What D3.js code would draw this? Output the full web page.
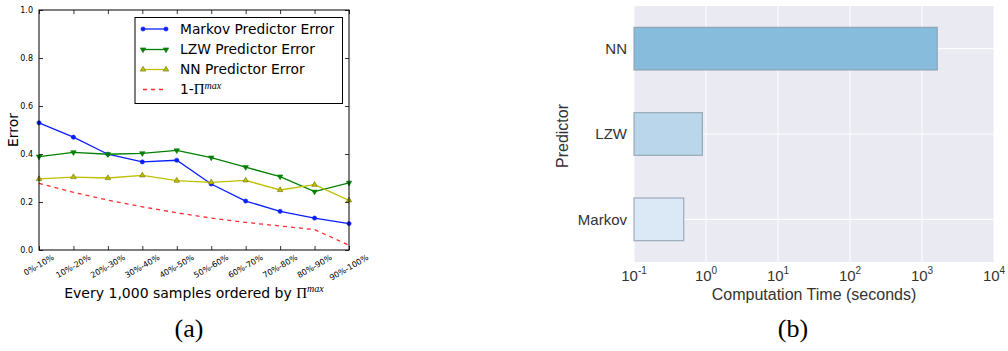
<!DOCTYPE html>
<html>
<head>
<meta charset="utf-8">
<script src="https://cdn.jsdelivr.net/npm/d3@7"></script>
<style>
  html, body { margin: 0; padding: 0; background: #fff; }
  svg { display: block; }
</style>
</head>
<body>
<svg id="fig" width="1008" height="351"></svg>
<script>
// ---- Panel (a): prediction error per decile of samples ----
const deciles = ["0%-10%", "10%-20%", "20%-30%", "30%-40%", "40%-50%",
                 "50%-60%", "60%-70%", "70%-80%", "80%-90%", "90%-100%"];
const markovError = [0.530, 0.470, 0.399, 0.367, 0.374, 0.275, 0.204, 0.161, 0.133, 0.110];
const lzwError    = [0.389, 0.407, 0.399, 0.403, 0.415, 0.385, 0.345, 0.306, 0.243, 0.280];
const nnError     = [0.296, 0.304, 0.300, 0.311, 0.289, 0.282, 0.290, 0.250, 0.272, 0.207];
const piMaxBound  = [0.278, 0.240, 0.208, 0.180, 0.155, 0.133, 0.115, 0.100, 0.085, 0.020];
const errorTicks  = [0.0, 0.2, 0.4, 0.6, 0.8, 1.0];

// ---- Panel (b): computation time per predictor ----
const predictors  = ["NN", "LZW", "Markov"];
const computeTime = [1630, 0.89, 0.49];
const timeTicks   = [-1, 0, 1, 2, 3, 4];   // powers of ten

const svg = d3.select("#fig");
const sans = "DejaVu Sans, sans-serif";
const serif = "Liberation Serif, DejaVu Serif, serif";

// ================= Panel (a) =================
const A = { left: 39, right: 349, top: 10, bottom: 250 };
const xA = d3.scalePoint().domain(deciles).range([A.left, A.right]);
const yA = d3.scaleLinear().domain([0, 1]).range([A.bottom, A.top]);
const ga = svg.append("g");

// inward ticks on all four sides
const tickLen = 4;
ga.append("g").attr("transform", `translate(0,${A.bottom})`)
  .call(d3.axisBottom(xA).tickSize(-tickLen).tickFormat(""))
  .call(g => g.select(".domain").remove());
ga.append("g").attr("transform", `translate(0,${A.top})`)
  .call(d3.axisTop(xA).tickSize(-tickLen).tickFormat(""))
  .call(g => g.select(".domain").remove());
ga.append("g").attr("transform", `translate(${A.left},0)`)
  .call(d3.axisLeft(yA).tickValues(errorTicks).tickSize(-tickLen).tickPadding(6).tickFormat(d3.format(".1f")))
  .call(g => g.select(".domain").remove())
  .call(g => g.selectAll("text").attr("font-family", sans).attr("font-size", 8).attr("fill", "#000"));
ga.append("g").attr("transform", `translate(${A.right},0)`)
  .call(d3.axisRight(yA).tickValues(errorTicks).tickSize(-tickLen).tickFormat(""))
  .call(g => g.select(".domain").remove());
ga.selectAll(".tick line").attr("stroke", "#000").attr("stroke-width", 0.8);

// rotated decile labels, centred under each tick
const xl = ga.append("g");
deciles.forEach(d => {
  const t = xl.append("text")
    .attr("font-family", sans).attr("font-size", 8).attr("fill", "#000")
    .attr("text-anchor", "middle").attr("dominant-baseline", "central")
    .text(d);
  const w = t.node().getComputedTextLength();
  const half = (w * 0.5 + 9 * 0.866) / 2;
  t.attr("transform", `translate(${xA(d)},${A.bottom + 3 + half}) rotate(-30)`);
});

// series
const series = [
  { name: "Markov Predictor Error", values: markovError, color: "#0a1eff", marker: "circle", dash: null },
  { name: "LZW Predictor Error",    values: lzwError,    color: "#008000", marker: "down",   dash: null },
  { name: "NN Predictor Error",     values: nnError,     color: "#bfbf00", marker: "up",     dash: null },
  { name: "bound",                  values: piMaxBound,  color: "#ff2a2a", marker: null,     dash: "4,4" }
];
const lineA = d3.line().x((d, i) => xA(deciles[i])).y(d => yA(d));
const symPath = m => m === "circle" ? d3.symbol(d3.symbolCircle, 14)()
                  : d3.symbol(d3.symbolTriangle, 13)();
function drawMarker(g, s, x, y) {
  if (!s.marker) return;
  const rot = s.marker === "down" ? 180 : 0;
  g.append("path").attr("d", symPath(s.marker))
    .attr("transform", `translate(${x},${y}) rotate(${rot})`)
    .attr("fill", s.color)
    .attr("stroke", s.marker === "up" ? "#6b6b00" : s.color).attr("stroke-width", 0.6);
}
const plotA = ga.append("g");
series.forEach(s => {
  plotA.append("path").datum(s.values).attr("d", lineA)
    .attr("fill", "none").attr("stroke", s.color).attr("stroke-width", 1.3)
    .attr("stroke-dasharray", s.dash);
  s.values.forEach((v, i) => drawMarker(plotA, s, xA(deciles[i]), yA(v)));
});

// frame
ga.append("rect").attr("x", A.left).attr("y", A.top)
  .attr("width", A.right - A.left).attr("height", A.bottom - A.top)
  .attr("fill", "none").attr("stroke", "#000").attr("stroke-width", 1);

// legend
const lg = ga.append("g");
lg.append("rect").attr("x", 135).attr("y", 17.5).attr("width", 207.5).attr("height", 86)
  .attr("fill", "#fff").attr("stroke", "#000").attr("stroke-width", 1);
const legendY = [29, 49.5, 69.5, 89.5];
series.forEach((s, i) => {
  const y = legendY[i];
  lg.append("line").attr("x1", 143).attr("x2", 166).attr("y1", y).attr("y2", y)
    .attr("stroke", s.color).attr("stroke-width", 1.3).attr("stroke-dasharray", s.dash);
  if (s.marker) { drawMarker(lg, s, 143, y); drawMarker(lg, s, 166, y); }
  const t = lg.append("text").attr("x", 180).attr("y", y).attr("dy", "0.36em")
    .attr("font-family", sans).attr("font-size", 13.8).attr("fill", "#000");
  if (s.name === "bound") {
    t.append("tspan").text("1-");
    t.append("tspan").attr("font-family", serif).attr("font-size", 15).text("Π");
    t.append("tspan").attr("font-family", serif).attr("font-style", "italic")
      .attr("font-size", 10).attr("dy", "-0.55em").text("max");
  } else {
    t.text(s.name);
  }
});

// axis titles
ga.append("text").attr("transform", "translate(18,130) rotate(-90)")
  .attr("text-anchor", "middle").attr("font-family", sans).attr("font-size", 14).text("Error");
const xt = ga.append("text").attr("x", 194).attr("y", 298).attr("text-anchor", "middle")
  .attr("font-family", sans).attr("font-size", 14).attr("fill", "#000");
xt.append("tspan").text("Every 1,000 samples ordered by ");
xt.append("tspan").attr("font-family", serif).attr("font-size", 15).text("Π");
xt.append("tspan").attr("font-family", serif).attr("font-style", "italic")
  .attr("font-size", 10).attr("dy", "-0.6em").text("max");
ga.append("text").attr("x", 189).attr("y", 337).attr("text-anchor", "middle")
  .attr("font-family", serif).attr("font-size", 26).text("(a)");

// ================= Panel (b) =================
const B = { left: 634, right: 994, top: 6, bottom: 262 };
const xB = d3.scaleLog().domain([0.1, 10000]).range([B.left, B.right]);
const yB = d3.scaleBand().domain(predictors).range([B.top, B.bottom])
  .paddingInner(0.5).paddingOuter(0.25);
const gb = svg.append("g");
const bSans = "Liberation Sans, Arial, sans-serif";

gb.append("rect").attr("x", B.left).attr("y", B.top)
  .attr("width", B.right - B.left).attr("height", B.bottom - B.top).attr("fill", "#eaeaf2");

// grid
gb.append("g").selectAll("line").data(timeTicks).join("line")
  .attr("x1", p => xB(Math.pow(10, p))).attr("x2", p => xB(Math.pow(10, p)))
  .attr("y1", B.top).attr("y2", B.bottom).attr("stroke", "#fff").attr("stroke-width", 1);
gb.append("g").selectAll("line").data(predictors).join("line")
  .attr("x1", B.left).attr("x2", B.right)
  .attr("y1", d => yB(d) + yB.bandwidth() / 2).attr("y2", d => yB(d) + yB.bandwidth() / 2)
  .attr("stroke", "#fff").attr("stroke-width", 1);

// bars
const barFill = d3.scaleOrdinal().domain(predictors).range(["#88bcdd", "#bad6eb", "#dbe9f6"]);
gb.append("g").selectAll("rect").data(predictors).join("rect")
  .attr("x", xB(0.1))
  .attr("y", d => yB(d))
  .attr("width", (d, i) => xB(computeTime[i]) - xB(0.1))
  .attr("height", yB.bandwidth())
  .attr("fill", d => barFill(d))
  .attr("stroke", "#8a9bab").attr("stroke-opacity", 0.8).attr("stroke-width", 1.2);

// tick labels
gb.append("g").selectAll("text").data(predictors).join("text")
  .attr("x", B.left - 7)
  .attr("y", d => yB(d) + yB.bandwidth() / 2).attr("dy", "0.36em")
  .attr("text-anchor", "end").attr("font-family", bSans).attr("font-size", 15).attr("fill", "#333")
  .text(d => d);
const xtB = gb.append("g").selectAll("text").data(timeTicks).join("text")
  .attr("x", p => xB(Math.pow(10, p))).attr("y", 281)
  .attr("text-anchor", "middle").attr("font-family", bSans).attr("font-size", 15).attr("fill", "#333");
xtB.append("tspan").text("10");
xtB.append("tspan").attr("font-size", 10).attr("dy", "-0.7em").text(p => p);

gb.append("text").attr("x", 814).attr("y", 300).attr("text-anchor", "middle")
  .attr("font-family", bSans).attr("font-size", 16).attr("fill", "#333")
  .text("Computation Time (seconds)");
gb.append("text").attr("transform", "translate(568,136) rotate(-90)").attr("text-anchor", "middle")
  .attr("font-family", bSans).attr("font-size", 16).attr("fill", "#333").text("Predictor");
gb.append("text").attr("x", 793).attr("y", 337).attr("text-anchor", "middle")
  .attr("font-family", serif).attr("font-size", 26).text("(b)");
</script>
</body>
</html>
